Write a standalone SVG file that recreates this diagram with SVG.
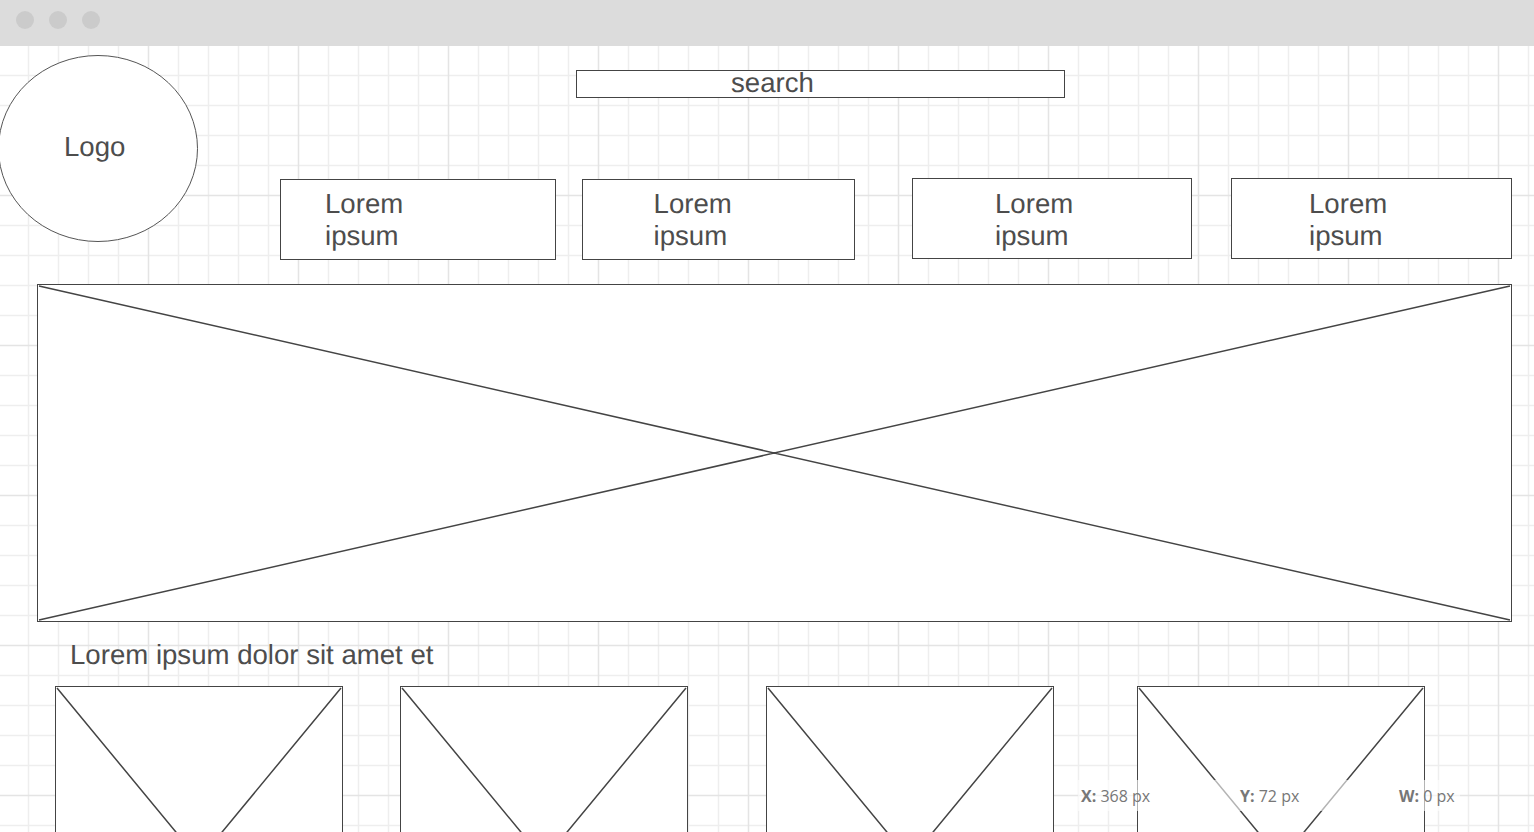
<svg xmlns="http://www.w3.org/2000/svg" width="1534" height="832" viewBox="0 0 1534 832">
<style>
.g{stroke:#eeeeee;stroke-width:1.5;fill:none}
.m{stroke:#e4e4e4;stroke-width:1.5;fill:none}
.s{fill:#fff;stroke:#444;stroke-width:1}
.e{fill:#fff;stroke:#555;stroke-width:1}
.x{fill:none;stroke:#444;stroke-width:1.5}
.t{font-family:"Liberation Sans",Arial,sans-serif;font-size:27.6px;fill:#4d4d4d;text-rendering:geometricPrecision}
.o{font-family:"Open Sans",sans-serif;font-size:16px;fill:#777}
.o .b{font-weight:700}
</style>
<rect width="1534" height="832" fill="#fff"/>
<g id="grid">
<path class="g" d="M28.5 46V832M58.5 46V832M88.5 46V832M118.5 46V832M178.5 46V832M208.5 46V832M238.5 46V832M268.5 46V832M328.5 46V832M358.5 46V832M388.5 46V832M418.5 46V832M478.5 46V832M508.5 46V832M538.5 46V832M568.5 46V832M628.5 46V832M658.5 46V832M688.5 46V832M718.5 46V832M778.5 46V832M808.5 46V832M838.5 46V832M868.5 46V832M928.5 46V832M958.5 46V832M988.5 46V832M1018.5 46V832M1078.5 46V832M1108.5 46V832M1138.5 46V832M1168.5 46V832M1228.5 46V832M1258.5 46V832M1288.5 46V832M1318.5 46V832M1378.5 46V832M1408.5 46V832M1438.5 46V832M1468.5 46V832M1528.5 46V832"/>
<path class="g" d="M0 75.500H1534M0 105.500H1534M0 135.500H1534M0 165.500H1534M0 225.500H1534M0 255.500H1534M0 285.500H1534M0 315.500H1534M0 375.500H1534M0 405.500H1534M0 435.500H1534M0 465.500H1534M0 525.500H1534M0 555.500H1534M0 585.500H1534M0 615.500H1534M0 675.500H1534M0 705.500H1534M0 735.500H1534M0 765.500H1534M0 825.500H1534"/>
<path class="m" d="M148.500 46V832M298.500 46V832M448.500 46V832M598.500 46V832M748.500 46V832M898.500 46V832M1048.500 46V832M1198.500 46V832M1348.500 46V832M1498.500 46V832M0 195.500H1534M0 345.500H1534M0 495.500H1534M0 645.500H1534M0 795.500H1534"/>
</g>
<g id="titlebar">
<rect width="1534" height="46" fill="#dcdcdc"/>
<circle cx="25" cy="20" r="9" fill="#cbcbcb"/>
<circle cx="58" cy="20" r="9" fill="#cbcbcb"/>
<circle cx="91" cy="20" r="9" fill="#cbcbcb"/>
</g>
<g id="logo"><ellipse class="e" cx="98" cy="148.500" rx="99.500" ry="93"/><text class="t" x="64" y="156.300">Logo</text></g>
<g id="search"><rect class="s" x="576.500" y="70.500" width="488" height="27"/><text class="t" x="731" y="92.300">search</text></g>
<g id="nav1"><rect class="s" x="280.500" y="179.500" width="275" height="80"/><text class="t" x="325" y="213.300">Lorem</text><text class="t" x="325" y="245.300">ipsum</text></g>
<g id="nav2"><rect class="s" x="582.500" y="179.500" width="272" height="80"/><text class="t" x="653.600" y="213.300">Lorem</text><text class="t" x="653.600" y="245.300">ipsum</text></g>
<g id="nav3"><rect class="s" x="912.500" y="178.500" width="279" height="80"/><text class="t" x="995" y="213.300">Lorem</text><text class="t" x="995" y="245.300">ipsum</text></g>
<g id="nav4"><rect class="s" x="1231.500" y="178.500" width="280" height="80"/><text class="t" x="1309" y="213.300">Lorem</text><text class="t" x="1309" y="245.300">ipsum</text></g>
<g id="hero"><rect class="s" x="37.500" y="284.500" width="1474" height="337"/><path class="x" d="M39 286L1510 620M39 620L1510 286"/></g>
<g id="caption"><text class="t" x="70" y="664.300">Lorem ipsum dolor sit amet et</text></g>
<g id="thumb1"><rect class="s" x="55.500" y="686.500" width="287" height="342"/><path class="x" d="M57 688L341 1032M57 1032L341 688"/></g>
<g id="thumb2"><rect class="s" x="400.500" y="686.500" width="287" height="342"/><path class="x" d="M402 688L686 1032M402 1032L686 688"/></g>
<g id="thumb3"><rect class="s" x="766.500" y="686.500" width="287" height="342"/><path class="x" d="M768 688L1052 1032M768 1032L1052 688"/></g>
<g id="thumb4"><rect class="s" x="1137.500" y="686.500" width="287" height="342"/><path class="x" d="M1139 688L1423 1032M1139 1032L1423 688"/></g>
<g id="connectors"></g>
<g id="readout">
<rect x="1078" y="780" width="382" height="31" fill="#fff" fill-opacity=".6"/>
<text class="o" x="1081" y="802"><tspan class="b">X:</tspan> 368 px</text>
<text class="o" x="1240" y="802"><tspan class="b">Y:</tspan> 72 px</text>
<text class="o" x="1399" y="802"><tspan class="b">W:</tspan> 0 px</text>
</g>
</svg>
